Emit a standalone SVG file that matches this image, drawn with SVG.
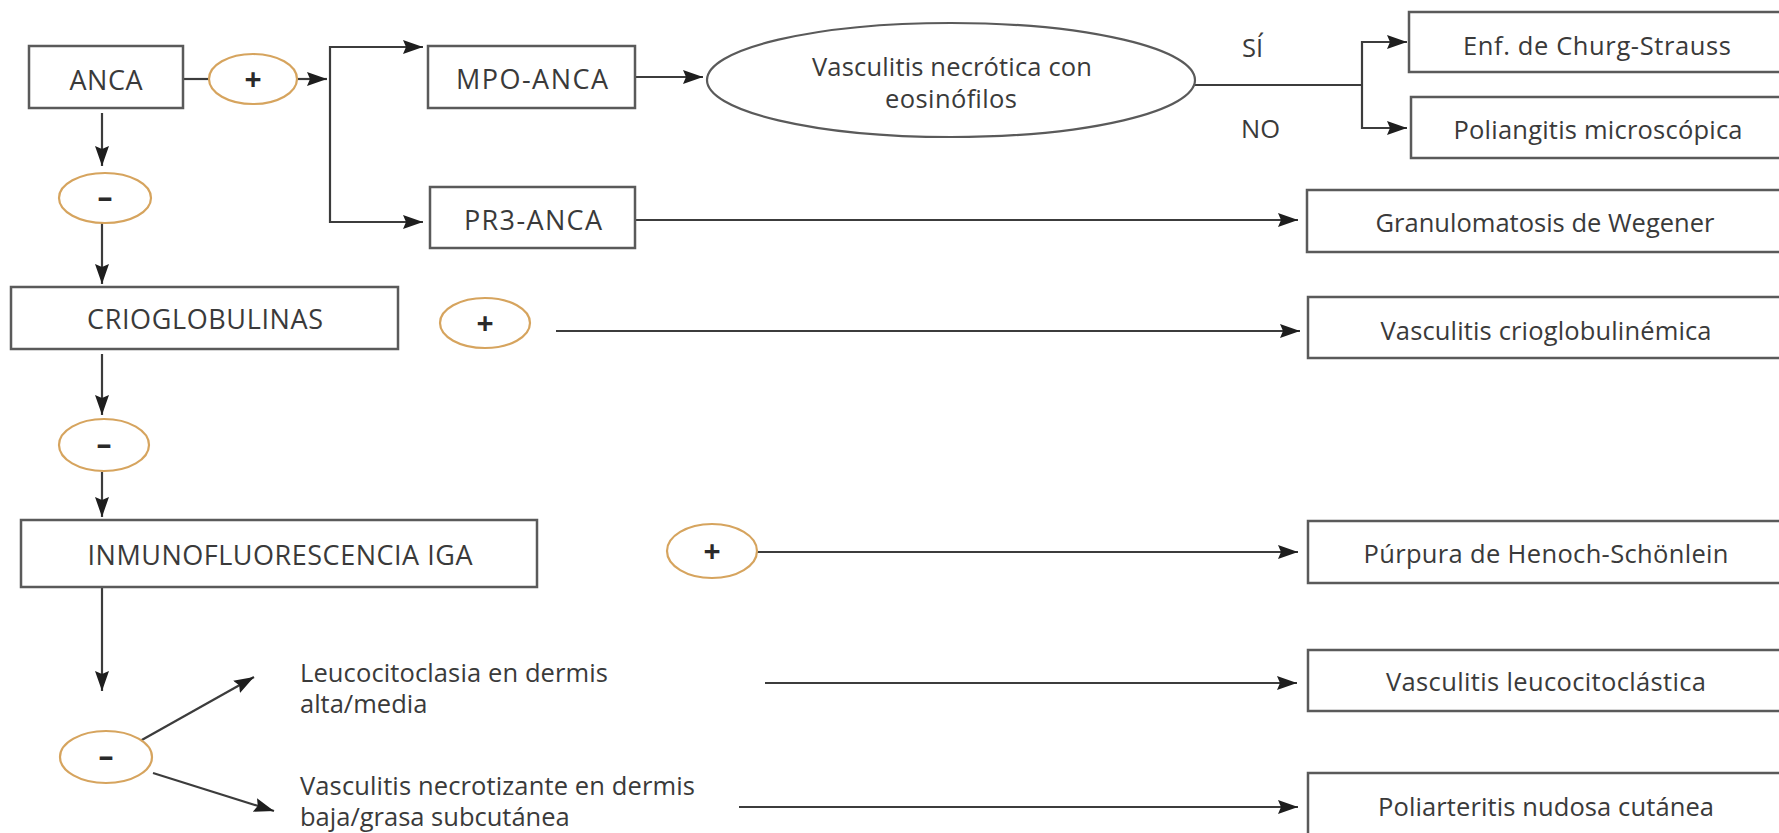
<svg xmlns="http://www.w3.org/2000/svg" width="1779" height="833" viewBox="0 0 1779 833">
  <style>
    .box { fill: #ffffff; stroke: #5a5a5a; stroke-width: 2.5; }
    .sign { fill: #ffffff; stroke: #d6a45e; stroke-width: 2.2; }
    .oval { fill: #ffffff; stroke: #5a5a5a; stroke-width: 2.2; }
    .lbl { font-family: "Open Sans", "Liberation Sans", sans-serif; font-size: 25.5px; fill: #3a3a3a; }
    .cap { font-family: "Open Sans", "Liberation Sans", sans-serif; font-size: 27px; fill: #3a3a3a; }
    .sym { font-family: "Open Sans", "Liberation Sans", sans-serif; font-size: 30px; font-weight: 700; fill: #2a2a2a; text-anchor: middle; }
    .mid { text-anchor: middle; }
    .ln { fill: none; stroke: #3c3c3c; stroke-width: 2.2; }
    .arr { fill: none; stroke: #3c3c3c; stroke-width: 2.2; marker-end: url(#head); }
  </style>
  <defs>
    <marker id="head" markerUnits="userSpaceOnUse" markerWidth="20" markerHeight="14" refX="20" refY="7" orient="auto">
      <path d="M0,0 L20,7 L0,14 L3,7 z" fill="#1e1e1e"/>
    </marker>
  </defs>
  <rect width="1779" height="833" fill="#ffffff"/>

  <!-- connectors -->
  <g id="connectors">
    <line class="ln" x1="183" y1="79" x2="209" y2="79"/>
    <line class="arr" x1="298" y1="79" x2="327" y2="79"/>
    <line class="ln" x1="330" y1="46" x2="330" y2="223"/>
    <line class="arr" x1="329" y1="47" x2="423" y2="47"/>
    <line class="arr" x1="329" y1="222" x2="423" y2="222"/>
    <line class="arr" x1="635" y1="77" x2="703" y2="77"/>
    <line class="ln" x1="1195" y1="85" x2="1362" y2="85"/>
    <line class="ln" x1="1362" y1="41" x2="1362" y2="129"/>
    <line class="arr" x1="1361" y1="42" x2="1407" y2="42"/>
    <line class="arr" x1="1361" y1="128" x2="1407" y2="128"/>
    <line class="arr" x1="635" y1="220" x2="1298" y2="220"/>
    <line class="arr" x1="102" y1="113" x2="102" y2="166"/>
    <line class="arr" x1="102" y1="223" x2="102" y2="284"/>
    <line class="arr" x1="102" y1="354" x2="102" y2="415"/>
    <line class="arr" x1="102" y1="472" x2="102" y2="517"/>
    <line class="arr" x1="102" y1="587" x2="102" y2="691"/>
    <line class="arr" x1="140" y1="741" x2="254" y2="677"/>
    <line class="arr" x1="153" y1="773" x2="274" y2="811"/>
    <line class="arr" x1="556" y1="331" x2="1300" y2="331"/>
    <line class="arr" x1="757" y1="552" x2="1298" y2="552"/>
    <line class="arr" x1="765" y1="683" x2="1297" y2="683"/>
    <line class="arr" x1="739" y1="807" x2="1298" y2="807"/>
  </g>

  <!-- left column -->
  <g id="anca">
    <rect class="box" x="29" y="46" width="154" height="62"/>
    <text class="cap mid" x="106" y="90" textLength="73">ANCA</text>
  </g>
  <g id="anca-pos">
    <ellipse class="sign" cx="253" cy="79" rx="44" ry="25"/>
    <text class="sym" x="253" y="90">+</text>
  </g>
  <g id="anca-neg">
    <ellipse class="sign" cx="105" cy="198" rx="46" ry="25"/>
    <text class="sym" x="105" y="208">–</text>
  </g>
  <g id="crioglobulinas">
    <rect class="box" x="11" y="287" width="387" height="62"/>
    <text class="cap mid" x="205" y="329" textLength="236">CRIOGLOBULINAS</text>
  </g>
  <g id="crio-pos">
    <ellipse class="sign" cx="485" cy="323" rx="45" ry="25"/>
    <text class="sym" x="485" y="334">+</text>
  </g>
  <g id="crio-neg">
    <ellipse class="sign" cx="104" cy="445" rx="45" ry="26"/>
    <text class="sym" x="104" y="455">–</text>
  </g>
  <g id="inmunofluorescencia">
    <rect class="box" x="21" y="520" width="516" height="67"/>
    <text class="cap mid" x="280" y="565" textLength="385">INMUNOFLUORESCENCIA IGA</text>
  </g>
  <g id="iga-pos">
    <ellipse class="sign" cx="712" cy="551" rx="45" ry="27"/>
    <text class="sym" x="712" y="562">+</text>
  </g>
  <g id="iga-neg">
    <ellipse class="sign" cx="106" cy="757" rx="46" ry="26"/>
    <text class="sym" x="106" y="767">–</text>
  </g>
  <g id="leucocitoclasia">
    <text class="lbl" x="300" y="682" textLength="308">Leucocitoclasia en dermis</text>
    <text class="lbl" x="300" y="713">alta/media</text>
  </g>
  <g id="necrotizante">
    <text class="lbl" x="300" y="795" textLength="395">Vasculitis necrotizante en dermis</text>
    <text class="lbl" x="300" y="826">baja/grasa subcutánea</text>
  </g>

  <!-- ANCA subtypes -->
  <g id="mpo-anca">
    <rect class="box" x="428" y="46" width="207" height="62"/>
    <text class="cap mid" x="532" y="89" textLength="152">MPO-ANCA</text>
  </g>
  <g id="pr3-anca">
    <rect class="box" x="430" y="187" width="205" height="61"/>
    <text class="cap mid" x="533" y="230" textLength="138">PR3-ANCA</text>
  </g>
  <g id="eosinofilos">
    <ellipse class="oval" cx="951" cy="80" rx="244" ry="57"/>
    <text class="lbl mid" x="952" y="76" textLength="280">Vasculitis necrótica con</text>
    <text class="lbl mid" x="951" y="108" textLength="132">eosinófilos</text>
  </g>
  <g id="answers">
    <text class="lbl" x="1242" y="57">SÍ</text>
    <text class="lbl" x="1241" y="138">NO</text>
  </g>

  <!-- diagnoses -->
  <g id="churg-strauss">
    <rect class="box" x="1409" y="12" width="400" height="60"/>
    <text class="lbl mid" x="1597" y="55" textLength="268">Enf. de Churg-Strauss</text>
  </g>
  <g id="poliangitis">
    <rect class="box" x="1411" y="97" width="400" height="61"/>
    <text class="lbl mid" x="1598" y="139" textLength="289">Poliangitis microscópica</text>
  </g>
  <g id="wegener">
    <rect class="box" x="1307" y="190" width="500" height="62"/>
    <text class="lbl mid" x="1545" y="232" textLength="339">Granulomatosis de Wegener</text>
  </g>
  <g id="crioglobulinemica">
    <rect class="box" x="1308" y="297" width="500" height="61"/>
    <text class="lbl mid" x="1546" y="340" textLength="331">Vasculitis crioglobulinémica</text>
  </g>
  <g id="henoch">
    <rect class="box" x="1308" y="521" width="500" height="62"/>
    <text class="lbl mid" x="1546" y="563" textLength="365">Púrpura de Henoch-Schönlein</text>
  </g>
  <g id="leucocitoclastica">
    <rect class="box" x="1308" y="650" width="500" height="61"/>
    <text class="lbl mid" x="1546" y="691" textLength="320">Vasculitis leucocitoclástica</text>
  </g>
  <g id="poliarteritis">
    <rect class="box" x="1308" y="773" width="500" height="64"/>
    <text class="lbl mid" x="1546" y="816" textLength="336">Poliarteritis nudosa cutánea</text>
  </g>
</svg>
